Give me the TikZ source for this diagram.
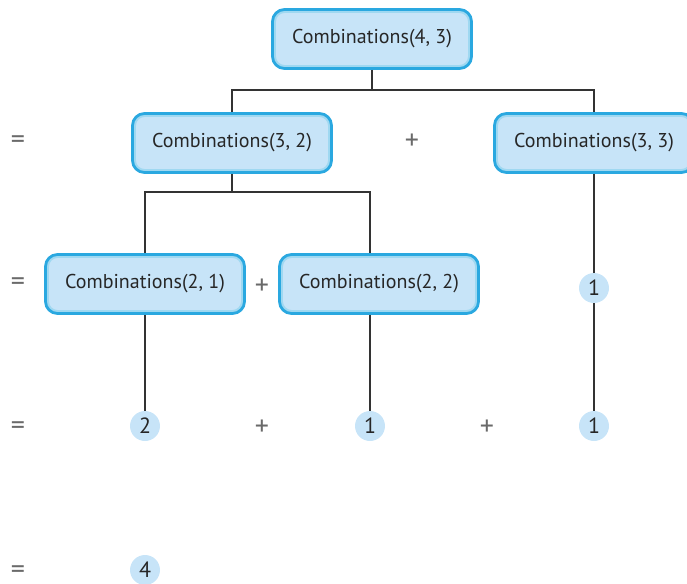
\documentclass[tikz,border=0pt]{standalone}
\usepackage{fontspec}
\setmainfont{PT Sans}
\usetikzlibrary{positioning}
\definecolor{boxblue}{HTML}{2AA8E0}
\definecolor{boxfill}{HTML}{C7E4F8}
\definecolor{lnx}{HTML}{333333}
\definecolor{opx}{HTML}{6A6A6A}
\tikzset{
  call/.style={draw=boxblue,line width=1.4pt,fill=boxfill,rounded corners=6pt,minimum width=99.5pt,minimum height=29.5pt,inner sep=2pt,
    path picture={\draw[boxblue!45,line width=3.4pt,rounded corners=6pt] (path picture bounding box.south west) rectangle (path picture bounding box.north east);},
    font=\fontsize{10}{12}\selectfont,text=black!85},
  val/.style={circle,fill=boxfill,minimum size=15pt,inner sep=0pt,font=\fontsize{11}{12}\selectfont,text=black!85},
  op/.style={text=opx,inner sep=0pt,yshift=-1pt,font=\fontsize{14}{15}\selectfont},
  ln/.style={lnx,line width=0.6pt}
}
\begin{document}
\begin{tikzpicture}[x=0.5pt,y=-0.5pt]
\useasboundingbox (0,0) rectangle (687,584);
% calls
\node[call] (c43) at (372,39) {Combinations(4, 3)};
\node[call] (c32) at (232,143) {Combinations(3, 2)};
\node[call] (c33) at (594,143) {Combinations(3, 3)};
\node[call] (c21) at (145,284) {Combinations(2, 1)};
\node[call] (c22) at (379,284) {Combinations(2, 2)};
% values
\node[val] (v33) at (594,288) {1};
\node[val] (v21) at (145,426) {2};
\node[val] (v22) at (370,426) {1};
\node[val] (v3) at (594,426) {1};
\node[val] (sum) at (145,570) {4};
% = and +
\foreach \y [count=\i] in {140,282,426,570}
  \node[op] (eq\i) at (18,\y) {=};
\foreach \x/\y [count=\i] in {412/140,262/285,262/426,487/426}
  \node[op] (pl\i) at (\x,\y) {+};
% tree lines
\coordinate (j1) at (372,90);
\coordinate (j2) at (232,192);
\draw[ln] (c43) -- (j1);
\draw[ln] (c32.north) |- (j1) -| (c33.north);
\draw[ln] (c32) -- (j2);
\draw[ln] (c21.north) |- (j2) -| ([xshift=-4.5pt]c22.north);
\draw[ln] (c21) -- (v21);
\draw[ln] ([xshift=-4.5pt]c22.south) -- (v22);
\draw[ln] (c33) -- (v33) -- (v3);
\end{tikzpicture}
\end{document}
